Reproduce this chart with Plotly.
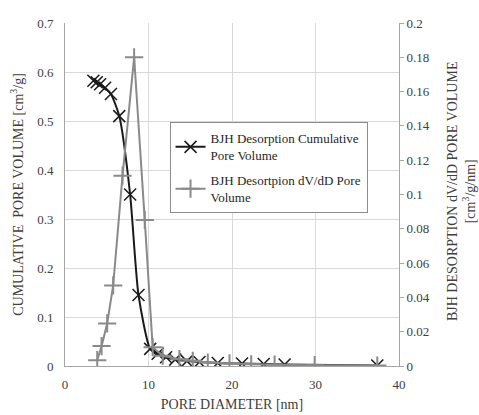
import plotly.graph_objects as go

cum_d = [3.4, 3.8, 4.2, 4.8, 5.5, 6.5, 7.8, 8.8, 10.2, 11.1, 12.1, 13.2, 14.6, 16.1, 18.3, 21.2, 23.8, 26.3, 37.4]
cum_v = [0.582, 0.579, 0.575, 0.568, 0.555, 0.51, 0.35, 0.145, 0.035, 0.025, 0.018, 0.013, 0.010, 0.008, 0.006, 0.005, 0.004, 0.003, 0.001]

dv_d = [3.86, 4.38, 5.05, 5.77, 6.89, 8.28, 9.55, 10.5, 11.7, 13.7, 15.3, 17.1, 19.7, 22.3, 25.1, 29.9, 37.4]
dv_v = [0.0034, 0.0116, 0.0248, 0.047, 0.111, 0.180, 0.0852, 0.011, 0.006, 0.004, 0.003, 0.002, 0.0015, 0.001, 0.0008, 0.0005, 0.0003]

x_ticks = [0, 10, 20, 30, 40]
y_ticks = [0, 0.1, 0.2, 0.3, 0.4, 0.5, 0.6, 0.7]
y2_ticks = [0, 0.02, 0.04, 0.06, 0.08, 0.1, 0.12, 0.14, 0.16, 0.18, 0.2]

serif = "Liberation Serif, Times New Roman, serif"
tc = "#404040"

fig = go.Figure()
fig.add_trace(go.Scatter(
    x=cum_d, y=cum_v, mode="lines+markers", legendgroup="a",
    name="BJH Desorption Cumulative<br>Pore Volume",
    line=dict(color="#1a1a1a", width=2, shape="spline", smoothing=0.6),
    marker=dict(symbol="x-thin", size=12, line=dict(color="#1a1a1a", width=1.5)),
))
fig.add_trace(go.Scatter(
    x=dv_d, y=dv_v, mode="lines+markers", yaxis="y2", legendgroup="b",
    name="BJH Desortpion dV/dD Pore<br>Volume",
    line=dict(color="#8a8a8a", width=2),
    marker=dict(symbol="cross-thin", size=13, line=dict(color="#8a8a8a", width=2)),
))

fig.update_layout(
    width=479, height=415,
    margin=dict(l=65, r=80, t=23, b=49),
    paper_bgcolor="white", plot_bgcolor="white",
    font=dict(family=serif, size=13, color=tc),
    showlegend=True,
    legend=dict(x=0.313, y=0.71, xanchor="left", yanchor="top",
                bordercolor="#8c8c8c", borderwidth=1, bgcolor="white",
                font=dict(family=serif, size=13, color="#262626"),
                itemwidth=30, tracegroupgap=5),
    xaxis=dict(range=[0, 40], tickvals=x_ticks, showgrid=True, gridcolor="#d9d9d9",
               showline=True, linecolor="#a6a6a6", linewidth=1, ticks="", zeroline=False,
               ticklabelstandoff=6, automargin=False,
               title=dict(text="PORE DIAMETER [nm]", font=dict(family=serif, size=14, color=tc), standoff=8)),
    yaxis=dict(range=[0, 0.7], tickvals=y_ticks, tickformat="~g", showgrid=True, gridcolor="#d9d9d9",
               showline=True, linecolor="#a6a6a6", linewidth=1, ticks="", zeroline=False,
               ticklabelstandoff=8, automargin=False,
               title=dict(text="CUMULATIVE  PORE VOLUME [cm<sup>3</sup>/g]", font=dict(family=serif, size=14, color=tc), standoff=10)),
    yaxis2=dict(range=[0, 0.2], tickvals=y2_ticks, tickformat="~g", overlaying="y", side="right",
                showgrid=False, showline=True, linecolor="#a6a6a6", linewidth=1,
                ticks="outside", ticklen=4, tickcolor="#a6a6a6", zeroline=False, automargin=False),
    annotations=[dict(text="BJH DESORPTION dV/dD PORE VOLUME<br>[cm<sup>3</sup>/g/nm]",
                      xref="paper", yref="paper", x=1.1856, y=0.51, xanchor="center", yanchor="middle",
                      textangle=-90, showarrow=False,
                      font=dict(family=serif, size=14, color=tc))],
)

fig.write_html("out.html", config={"displayModeBar": False},
               post_script="document.body.style.margin='0';document.body.style.overflow='hidden';")
